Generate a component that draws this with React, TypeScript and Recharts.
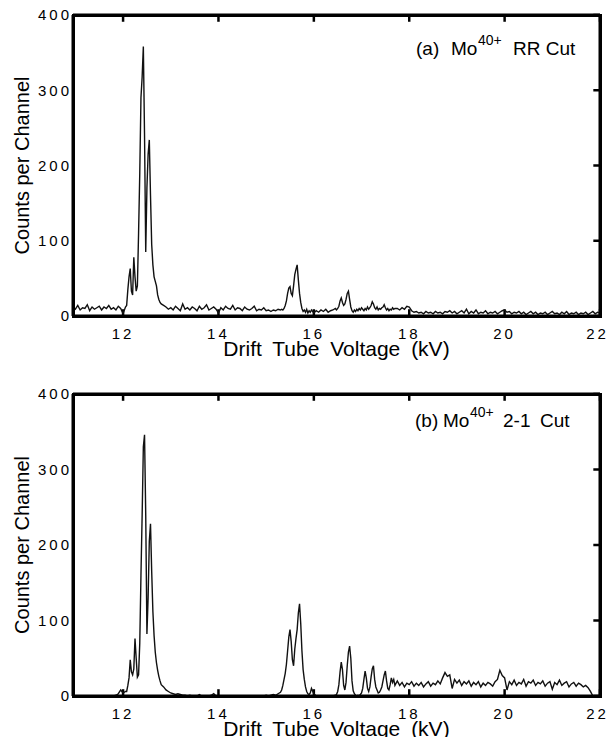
import React from "react";
import { Line, LineChart, ReferenceLine, XAxis, YAxis } from "recharts";

// Drift tube voltage (kV) of each channel, split into segments:
// coarse steps on the flat baseline, finer steps across the peaks.
const seg1Voltage = [
  10.95, 11.0, 11.05, 11.1, 11.15, 11.2, 11.25, 11.3, 11.35, 11.4, 11.45, 11.5,
  11.55, 11.6, 11.65, 11.7, 11.75, 11.8, 11.85, 11.9, 11.95, 12.0, 12.05,
];
const seg2Voltage = [
  12.075, 12.1, 12.125, 12.15, 12.175, 12.2, 12.225, 12.25, 12.275, 12.3,
  12.325, 12.35, 12.375, 12.4, 12.425, 12.45, 12.475, 12.5, 12.525, 12.55,
  12.575, 12.6, 12.625, 12.65, 12.675, 12.7, 12.725, 12.75, 12.775, 12.8,
];
const seg3Voltage = [
  12.85, 12.9, 12.95, 13.0, 13.05, 13.1, 13.15, 13.2, 13.25, 13.3,
  13.35, 13.4, 13.45, 13.5, 13.55, 13.6, 13.65, 13.7, 13.75, 13.8,
  13.85, 13.9, 13.95, 14.0, 14.05, 14.1, 14.15, 14.2, 14.25, 14.3,
  14.35, 14.4, 14.45, 14.5, 14.55, 14.6, 14.65, 14.7, 14.75, 14.8,
  14.85, 14.9, 14.95, 15.0, 15.05, 15.1, 15.15, 15.2, 15.25, 15.3,
];
const seg4Voltage = [
  15.325, 15.35, 15.375, 15.4, 15.425, 15.45, 15.475, 15.5, 15.525, 15.55,
  15.575, 15.6, 15.625, 15.65, 15.675, 15.7, 15.725, 15.75, 15.775, 15.8,
  15.825, 15.85, 15.875, 15.9, 15.925, 15.95,
];
const seg5Voltage = [16.0, 16.05, 16.1, 16.15, 16.2, 16.25, 16.3, 16.35, 16.4, 16.45];
const seg6Voltage = [
  16.475, 16.5, 16.525, 16.55, 16.575, 16.6, 16.625, 16.65, 16.675, 16.7,
  16.725, 16.75, 16.775, 16.8, 16.825, 16.85, 16.875, 16.9, 16.925, 16.95,
  16.975, 17.0, 17.025, 17.05, 17.075, 17.1, 17.125, 17.15, 17.175, 17.2,
  17.225, 17.25, 17.275, 17.3, 17.325, 17.35, 17.375, 17.4, 17.425, 17.45,
  17.475, 17.5, 17.525, 17.55, 17.575, 17.6, 17.625, 17.65, 17.675, 17.7,
];
const seg7Voltage = [
  17.75, 17.8, 17.85, 17.9, 17.95, 18.0, 18.05, 18.1, 18.15, 18.2,
  18.25, 18.3, 18.35, 18.4, 18.45, 18.5, 18.55, 18.6, 18.65, 18.7,
  18.75, 18.8, 18.85, 18.9, 18.95, 19.0, 19.05, 19.1, 19.15, 19.2,
  19.25, 19.3, 19.35, 19.4, 19.45, 19.5, 19.55, 19.6, 19.65, 19.7,
  19.75, 19.8, 19.85, 19.9, 19.95, 20.0, 20.05, 20.1, 20.15, 20.2,
  20.25, 20.3, 20.35, 20.4, 20.45, 20.5, 20.55, 20.6, 20.65, 20.7,
  20.75, 20.8, 20.85, 20.9, 20.95, 21.0, 21.05, 21.1, 21.15, 21.2,
  21.25, 21.3, 21.35, 21.4, 21.45, 21.5, 21.55, 21.6, 21.65, 21.7,
  21.75, 21.8, 21.85, 21.9, 21.95, 22.0,
];

// (a) Mo40+ RR cut, counts per channel
const seg1A = [12, 9, 14, 8, 11, 10, 15, 7, 12, 9, 11, 13, 8, 12, 10, 14, 9, 11, 8, 13, 10, 3, 12];
const seg2A = [
  14, 35, 52, 63, 33, 28, 78, 52, 33, 40,
  110, 190, 290, 318, 358, 240, 85, 170, 215, 234,
  160, 95, 68, 52, 46, 40, 28, 22, 18, 16,
];
const seg3A = [
  14, 12, 9, 11, 8, 13, 10, 7, 16, 9,
  11, 8, 12, 10, 7, 13, 9, 11, 15, 8,
  10, 12, 9, 4, 11, 8, 13, 10, 9, 14,
  8, 11, 10, 7, 12, 9, 8, 10, 13, 7,
  9, 8, 11, 7, 8, 6, 8, 7, 9, 8,
];
const seg4A = [
  9, 8, 10, 14, 20, 30, 37, 39, 30, 27,
  40, 55, 62, 68, 48, 30, 18, 10, 6, 8,
  5, 9, 4, 7, 5, 8,
];
const seg5A = [4, 7, 5, 8, 6, 9, 5, 7, 8, 10];
const seg6A = [
  8, 10, 13, 20, 24, 18, 14, 16, 22, 30,
  33, 22, 12, 7, 5, 8, 6, 9, 7, 10,
  8, 11, 9, 7, 10, 8, 12, 9, 11, 14,
  19, 16, 11, 9, 12, 8, 10, 9, 11, 12,
  15, 11, 8, 10, 7, 9, 8, 11, 9, 10,
];
const seg7A = [
  10, 8, 11, 9, 13, 12, 7, 5, 6, 4,
  5, 3, 6, 4, 5, 3, 6, 4, 5, 3,
  6, 5, 7, 4, 6, 3, 5, 7, 4, 9,
  3, 6, 4, 8, 3, 5, 4, 7, 3, 5,
  4, 6, 3, 5, 7, 8, 5, 6, 3, 5,
  4, 6, 3, 5, 2, 4, 6, 3, 5, 2,
  4, 3, 5, 2, 4, 6, 3, 4, 2, 5,
  3, 6, 2, 4, 3, 5, 2, 4, 3, 5,
  2, 4, 6, 3, 5, 4,
];

// (b) Mo40+ 2-1 cut, counts per channel
const seg1B = [0, 0, 0, 0, 0, 0, 0, 0, 0, 0, 0, 0, 0, 0, 0, 0, 0, 0, 1, 3, 8, 4, 6];
const seg2B = [
  6, 14, 24, 48, 32, 28, 36, 76, 50, 25,
  28, 70, 160, 240, 330, 346, 240, 82, 130, 205,
  228, 165, 112, 80, 58, 44, 34, 26, 20, 15,
];
const seg3B = [
  12, 8, 6, 4, 3, 2, 3, 2, 1, 1,
  0, 1, 0, 0, 0, 2, 0, 0, 0, 0,
  1, 3, 0, 0, 0, 0, 0, 0, 0, 0,
  0, 0, 0, 0, 0, 0, 0, 0, 0, 0,
  0, 0, 0, 1, 0, 1, 2, 1, 3, 5,
];
const seg4B = [
  8, 14, 22, 30, 42, 60, 78, 88, 72, 48,
  40, 62, 76, 88, 110, 122, 96, 60, 35, 22,
  12, 6, 3, 2, 4, 10,
];
const seg5B = [3, 0, 0, 0, 0, 0, 0, 0, 0, 1];
const seg6B = [
  2, 6, 15, 32, 45, 35, 14, 8, 18, 40,
  58, 66, 50, 20, 7, 3, 1, 0, 1, 0,
  2, 4, 10, 22, 33, 24, 10, 6, 12, 25,
  36, 40, 22, 12, 8, 4, 5, 8, 12, 20,
  28, 33, 20, 10, 8, 15, 24, 18, 22, 14,
];
const seg7B = [
  20, 14, 18, 12, 17, 15, 19, 13, 17, 14,
  18, 12, 16, 19, 13, 17, 15, 20, 16, 24,
  31, 26, 28, 10, 22, 17, 21, 14, 19, 16,
  20, 13, 18, 15, 19, 12, 17, 14, 18, 16,
  13, 19, 22, 34, 27, 24, 8, 19, 15, 21,
  14, 18, 16, 22, 13, 19, 17, 21, 14, 18,
  16, 20, 13, 17, 19, 9, 18, 15, 21, 14,
  17, 19, 12, 16, 18, 13, 17, 15, 12, 14,
  11, 6, 0, null, null, null,
];

const xTicks = [12, 14, 16, 18, 20, 22];
const yTicks = [0, 100, 200, 300, 400];
const X_MIN = 10.95;
const X_MAX = 22;
const Y_MAX = 400;

const voltage = [
  ...seg1Voltage, ...seg2Voltage, ...seg3Voltage, ...seg4Voltage,
  ...seg5Voltage, ...seg6Voltage, ...seg7Voltage,
];
const countsA = [...seg1A, ...seg2A, ...seg3A, ...seg4A, ...seg5A, ...seg6A, ...seg7A];
const countsB = [...seg1B, ...seg2B, ...seg3B, ...seg4B, ...seg5B, ...seg6B, ...seg7B];

const rows = voltage.map((v, i) => ({ v, a: countsA[i], b: countsB[i] }));

const FONT = "'Liberation Sans', Arial, Helvetica, sans-serif";
const tickFont = { fontSize: 15, letterSpacing: 3, fill: "black", fontFamily: FONT };
const PLOT_LEFT = 73;
const PLOT_RIGHT = 600;

const Panel = ({
  dataKey,
  height,
  marginTop,
  xAxisHeight,
  children,
}: {
  dataKey: string;
  height: number;
  marginTop: number;
  xAxisHeight: number;
  children?: React.ReactNode;
}) => {
  const plotBottom = height - xAxisHeight;
  const midY = (marginTop + plotBottom) / 2;
  return (
    <div style={{ position: "relative", width: 608, height }}>
      <LineChart
        width={608}
        height={height}
        data={rows}
        margin={{ top: marginTop, right: 8, bottom: 0, left: 0 }}
      >
        <XAxis
          xAxisId="b"
          dataKey="v"
          type="number"
          domain={[X_MIN, X_MAX]}
          ticks={xTicks}
          height={xAxisHeight}
          axisLine={{ stroke: "black", strokeWidth: 3 }}
          tickLine={false}
          tickMargin={6}
          tick={tickFont}
        />
        <YAxis
          yAxisId="l"
          domain={[0, Y_MAX]}
          ticks={yTicks}
          width={73}
          axisLine={{ stroke: "black", strokeWidth: 3 }}
          tickLine={false}
          tickSize={0}
          tickMargin={1}
          tick={tickFont}
        />
        <ReferenceLine xAxisId="b" yAxisId="l" y={Y_MAX} stroke="black" strokeWidth={3} />
        <ReferenceLine xAxisId="b" yAxisId="l" x={X_MAX} stroke="black" strokeWidth={3} />
        {/* inward ticks on the bottom and top edges */}
        {xTicks.map((t) => (
          <ReferenceLine
            key={`bot-${t}`}
            xAxisId="b"
            yAxisId="l"
            segment={[
              { x: t, y: 0 },
              { x: t, y: 9 },
            ]}
            stroke="black"
            strokeWidth={2.5}
          />
        ))}
        {xTicks.map((t) => (
          <ReferenceLine
            key={`top-${t}`}
            xAxisId="b"
            yAxisId="l"
            segment={[
              { x: t, y: Y_MAX },
              { x: t, y: Y_MAX - 9 },
            ]}
            stroke="black"
            strokeWidth={2.5}
          />
        ))}
        {/* inward ticks on the right edge */}
        {yTicks.map((t) => (
          <ReferenceLine
            key={`right-${t}`}
            xAxisId="b"
            yAxisId="l"
            segment={[
              { x: X_MAX, y: t },
              { x: X_MAX - 0.14, y: t },
            ]}
            stroke="black"
            strokeWidth={2.5}
          />
        ))}
        <Line
          xAxisId="b"
          yAxisId="l"
          dataKey={dataKey}
          stroke="#111"
          strokeWidth={1.4}
          dot={false}
          isAnimationActive={false}
        />
        <text
          transform={`translate(22, ${midY}) rotate(-90)`}
          textAnchor="middle"
          dominantBaseline="central"
          fontSize={20}
          fill="black"
          fontFamily={FONT}
        >
          Counts per Channel
        </text>
        <text
          x={336.5}
          y={plotBottom + 40}
          textAnchor="middle"
          fontSize={21}
          wordSpacing={5}
          fill="black"
          fontFamily={FONT}
        >
          Drift Tube Voltage (kV)
        </text>
        {children}
      </LineChart>
      {/* plot frame */}
      <div
        style={{
          position: "absolute",
          left: PLOT_LEFT - 1.5,
          top: marginTop - 1.5,
          width: PLOT_RIGHT - PLOT_LEFT + 3,
          height: plotBottom - marginTop + 3,
          border: "3px solid #000",
          boxSizing: "border-box",
          pointerEvents: "none",
        }}
      />
    </div>
  );
};

export default function App() {
  return (
    <div
      style={{
        position: "absolute",
        left: 0,
        top: 0,
        width: 608,
        height: 737,
        background: "#fff",
        overflow: "hidden",
      }}
    >
      <Panel dataKey="a" height={370} marginTop={15} xAxisHeight={54}>
        <text fontSize={19} fill="black" fontFamily={FONT}>
          <tspan x={416} y={55}>(a)</tspan>
          <tspan x={451} y={55}>Mo</tspan>
          <tspan x={478} y={45} fontSize={14}>40+</tspan>
          <tspan x={513} y={55}>RR Cut</tspan>
        </text>
      </Panel>
      <Panel dataKey="b" height={367} marginTop={24} xAxisHeight={41}>
        <text fontSize={19} fill="black" fontFamily={FONT}>
          <tspan x={415} y={57}>(b)</tspan>
          <tspan x={443} y={57}>Mo</tspan>
          <tspan x={470} y={47} fontSize={14}>40+</tspan>
          <tspan x={503} y={57}>2-1</tspan>
          <tspan x={540} y={57}>Cut</tspan>
        </text>
      </Panel>
    </div>
  );
}
